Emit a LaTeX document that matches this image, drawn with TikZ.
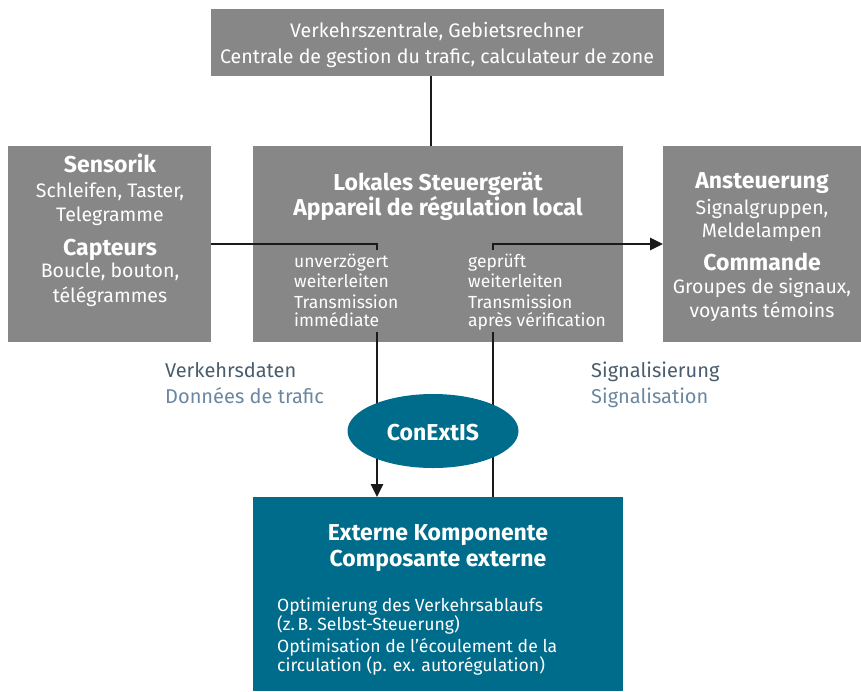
\documentclass[tikz,border=0pt]{standalone}
\usepackage{fontspec}
\setmainfont{Fira Sans}
\usetikzlibrary{arrows.meta,shapes.geometric}
\definecolor{boxgray}{RGB}{135,135,135}
\definecolor{teal}{RGB}{0,108,140}
\definecolor{lbldark}{RGB}{74,93,110}
\definecolor{lbllight}{RGB}{107,135,160}
\definecolor{linecol}{RGB}{26,26,26}
\tikzset{
  greybox/.style={fill=boxgray,draw=none,inner sep=0pt,anchor=north west},
  tealbox/.style={fill=teal,draw=none,inner sep=0pt,anchor=north west},
  reg/.style={text=white,inner sep=0pt,font=\fontsize{17.5}{20}\selectfont},
  sidetxt/.style={text=white,inner sep=0pt,anchor=base,font=\fontsize{19.5}{22}\selectfont},
  toptxt/.style={text=white,inner sep=0pt,anchor=base,font=\fontsize{19.6}{22}\selectfont},
  hd/.style={text=white,inner sep=0pt,font=\fontsize{23}{26}\selectfont\bfseries},
  lbl/.style={inner sep=0pt,anchor=base west,font=\fontsize{20}{22}\selectfont},
  conn/.style={draw=linecol,line width=2.6pt},
  arr/.style={conn,-{Triangle[length=13pt,width=12pt]}},
}
\begin{document}
\begin{tikzpicture}[x=1pt,y=-1pt]
\useasboundingbox (0,0) rectangle (861,691);
% boxes
\node[greybox,minimum width=453pt,minimum height=67pt] (top) at (211,9) {};
\node[greybox,minimum width=203pt,minimum height=196pt] (sens) at (8,146) {};
\node[greybox,minimum width=370pt,minimum height=196pt] (mid) at (253,146) {};
\node[greybox,minimum width=198pt,minimum height=196pt] (ans) at (663,146) {};
\node[tealbox,minimum width=370pt,minimum height=194pt] (ext) at (253,497) {};
% coordinates
\coordinate (ctop) at (431,0);
\coordinate (inL) at (377,244);
\coordinate (inLd) at (377,250);
\coordinate (outR) at (493,244);
\coordinate (outRd) at (493,250);
\coordinate (dnL) at (377,332);
\coordinate (dnR) at (493,332);
% connectors
\draw[conn] (top.south -| ctop) -- (mid.north -| ctop);
\draw[conn] (sens.east |- inL) -- (inL) -- (inLd);
\draw[arr] (outRd) -- (outR) -- (ans.west |- outR);
\draw[arr] (dnL) -- (ext.north -| dnL);
\draw[conn] (ext.north -| dnR) -- (dnR);
% ellipse
\node[ellipse,fill=teal,draw=none,minimum width=171pt,minimum height=74pt,inner sep=0pt] (cx) at (433,431) {};
\node[hd,anchor=base] (cxt) at (433,440) {ConExtIS};
% top box text
\node[toptxt] (t1) at (437,37) {Verkehrszentrale, Gebietsrechner};
\node[toptxt] (t2) at (437,63) {Centrale de gestion du trafic, calculateur de zone};
% left box
\node[hd,anchor=base] (s1) at (110,172) {Sensorik};
\node[sidetxt] (s2) at (110,197) {Schleifen, Taster,};
\node[sidetxt] (s3) at (110,221) {Telegramme};
\node[hd,anchor=base] (s4) at (110,255) {Capteurs};
\node[sidetxt] (s5) at (110,277) {Boucle, bouton,};
\node[sidetxt] (s6) at (110,302) {télégrammes};
% middle box
\node[hd,anchor=base] (m1) at (438,190) {Lokales Steuergerät};
\node[hd,anchor=base] (m2) at (438,215) {Appareil de régulation local};
\node[reg,anchor=base west] (ml1) at (294,267) {unverzögert};
\node[reg,anchor=base west] (ml2) at (294,287) {weiterleiten};
\node[reg,anchor=base west] (ml3) at (294,308) {Transmission};
\node[reg,anchor=base west] (ml4) at (294,326) {immédiate};
\node[reg,anchor=base west] (mr1) at (468,267) {geprüft};
\node[reg,anchor=base west] (mr2) at (468,287) {weiterleiten};
\node[reg,anchor=base west] (mr3) at (468,308) {Transmission};
\node[reg,anchor=base west] (mr4) at (468,326) {après vérification};
% right box
\node[hd,anchor=base] (a1) at (762,188) {Ansteuerung};
\node[sidetxt] (a2) at (762,214) {Signalgruppen,};
\node[sidetxt] (a3) at (762,237) {Meldelampen};
\node[hd,anchor=base] (a4) at (762,270) {Commande};
\node[sidetxt] (a5) at (762,293) {Groupes de signaux,};
\node[sidetxt] (a6) at (762,317) {voyants témoins};
% labels
\node[lbl,text=lbldark] (l1) at (165,377) {Verkehrsdaten};
\node[lbl,text=lbllight] (l2) at (165,403) {Données de trafic};
\node[lbl,text=lbldark] (r1) at (591,377) {Signalisierung};
\node[lbl,text=lbllight] (r2) at (591,403) {Signalisation};
% external box
\node[hd,anchor=base] (e1) at (438,540) {Externe Komponente};
\node[hd,anchor=base] (e2) at (438,566) {Composante externe};
\node[reg,anchor=base west,font=\fontsize{17.6}{20}\selectfont] (eb1) at (277,611) {Optimierung des Verkehrsablaufs};
\node[reg,anchor=base west,font=\fontsize{17.6}{20}\selectfont] (eb2) at (277,630) {(z.\,B. Selbst-Steuerung)};
\node[reg,anchor=base west,font=\fontsize{17.6}{20}\selectfont] (eb3) at (277,652) {Optimisation de l’écoulement de la};
\node[reg,anchor=base west,font=\fontsize{17.6}{20}\selectfont] (eb4) at (277,671) {circulation (p. ex. autorégulation)};
\end{tikzpicture}
\end{document}
